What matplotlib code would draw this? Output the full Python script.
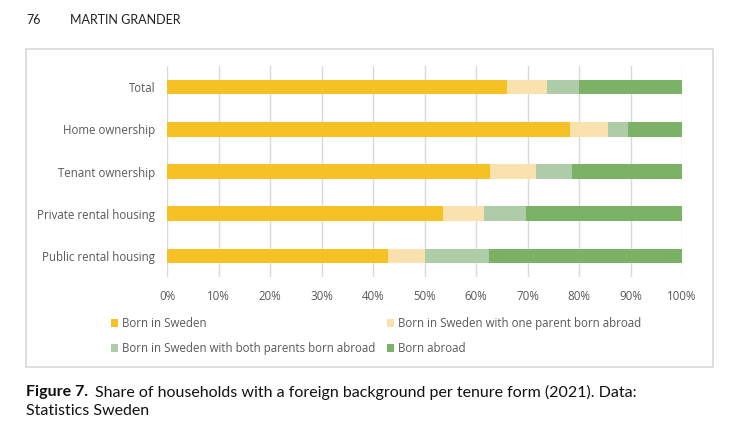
import matplotlib
matplotlib.use("Agg")
import matplotlib.pyplot as plt
from matplotlib.patches import Rectangle, Patch
import numpy as np

categories = ["Total", "Home ownership", "Tenant ownership",
              "Private rental housing", "Public rental housing"]
series_names = ["Born in Sweden",
                "Born in Sweden with one parent born abroad",
                "Born in Sweden with both parents born abroad",
                "Born abroad"]
born_sweden = [66.0, 78.3, 62.8, 53.6, 42.9]
one_parent = [7.7, 7.4, 8.8, 8.0, 7.1]
both_parents = [6.3, 3.8, 7.0, 8.1, 12.6]
born_abroad = [20.0, 10.5, 21.4, 30.3, 37.4]
xticks = [0, 10, 20, 30, 40, 50, 60, 70, 80, 90, 100]
xtick_labels = [f"{t}%" for t in xticks]
colors = ["#F6C125", "#F9E2AE", "#AECCA8", "#7BB266"]

W, H = 744, 432
fig = plt.figure(figsize=(W / 100, H / 100), dpi=100)
fig.patch.set_facecolor("white")

def fx(px): return px / W
def fy(py): return 1 - py / H

# box frame
fig.patches.append(Rectangle((fx(26), fy(367)), fx(713) - fx(26), fy(49) - fy(367),
                             transform=fig.transFigure, fill=False,
                             edgecolor="#D9D9D9", linewidth=1.2))

ax = fig.add_axes([fx(167), fy(277), fx(682) - fx(167), fy(66) - fy(277)])
y = np.arange(len(categories))
left = np.zeros(len(categories))
series = [born_sweden, one_parent, both_parents, born_abroad]
for vals, col, name in zip(series, colors, series_names):
    ax.barh(y, vals, left=left, height=0.35, color=col, label=name, zorder=3)
    left += np.array(vals)

ax.set_xlim(0, 100)
ax.set_ylim(len(categories) - 0.5, -0.5)
ax.set_yticks(y)
ax.set_yticklabels(categories, family="Open Sans")
ax.set_xticks(xticks)
ax.set_xticklabels(xtick_labels, family="Open Sans")
for s in ax.spines.values():
    s.set_visible(False)
ax.grid(axis="x", color="#D9D9D9", linewidth=1, zorder=0)
ax.tick_params(axis="both", length=0, labelsize=8.3, colors="#595959")
ax.tick_params(axis="y", pad=8.4)
ax.tick_params(axis="x", pad=9.4)

# legend filled row-wise (2 columns)
order = [0, 2, 1, 3]
handles = [Patch(facecolor=colors[i], edgecolor="none") for i in order]
labels = [series_names[i] for i in order]
leg = fig.legend(handles, labels, loc="upper left",
                 bbox_to_anchor=(fx(111), fy(317)), ncol=2, frameon=False,
                 prop={"family": "Open Sans", "size": 8.3},
                 handlelength=0.62, handleheight=0.62, handletextpad=0.35,
                 columnspacing=0.95, labelspacing=1.03, borderaxespad=0,
                 borderpad=0)
for t in leg.get_texts():
    t.set_color("#595959")

# header
fig.text(fx(26), fy(20), "76", fontsize=9, family="Lato", color="#222222", va="center")
fig.text(fx(70), fy(20), "MARTIN GRANDER", fontsize=9, family="Lato", color="#222222", va="center")

# caption
fig.canvas.draw()
r = fig.canvas.get_renderer()
t1 = fig.text(fx(26), fy(392), "Figure 7.", fontsize=11.5, family="Lato",
              weight="bold", color="#111111", va="center")
bb = t1.get_window_extent(renderer=r)
fig.text(bb.x1 / W + fx(7), fy(392),
         "Share of households with a foreign background per tenure form (2021). Data:",
         fontsize=11.5, family="Lato", color="#111111", va="center")
fig.text(fx(26), fy(411), "Statistics Sweden", fontsize=11.5, family="Lato",
         color="#111111", va="center")

fig.savefig("out.png", dpi=100, facecolor="white")
